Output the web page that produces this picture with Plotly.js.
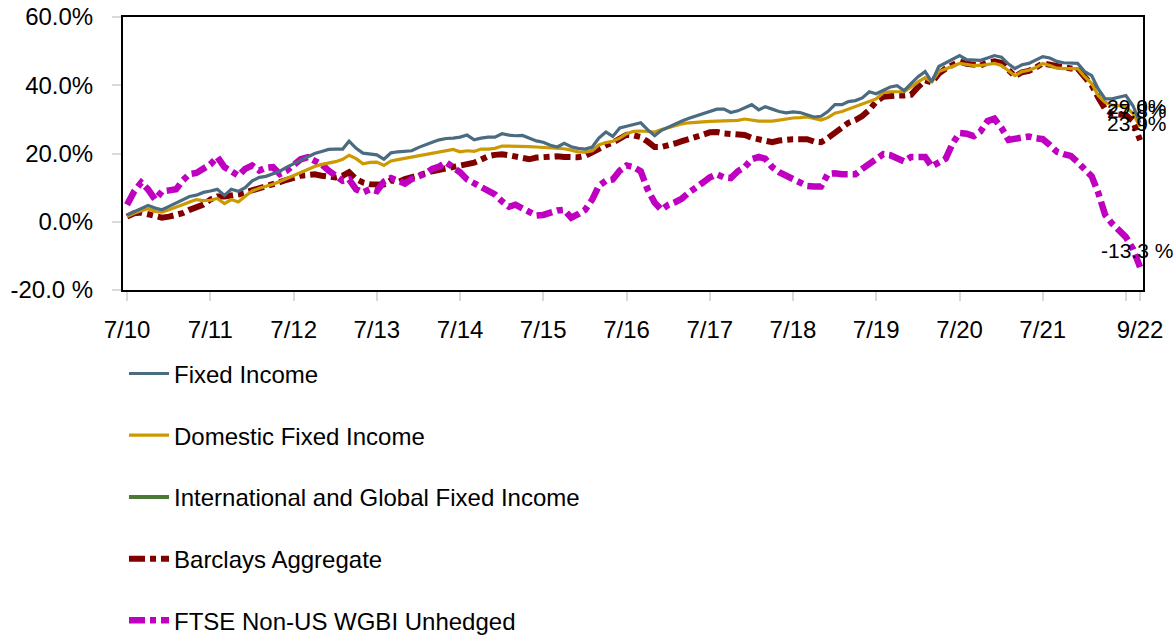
<!DOCTYPE html>
<html>
<head>
<meta charset="utf-8">
<script src="https://cdn.plot.ly/plotly-3.0.1.min.js"></script>
<style>
  html, body { margin: 0; padding: 0; background: #ffffff; }
  #chart { width: 1174px; height: 637px; }
</style>
</head>
<body>
<div id="chart"></div>
<script>
// Monthly cumulative returns (%), July 2010 through September 2022
const startYear = 2010, startMonth = 7, nMonths = 147;

const fixedIncome = [
  2.0, 3.0, 4.0, 4.8, 4.0, 3.5, 4.5, 5.5, 6.2, 7.4,
  7.8, 8.6, 9.0, 9.5, 7.7, 9.5, 8.9, 10.0, 12.0, 13.0,
  13.3, 14.0, 14.8, 16.0, 17.0, 18.0, 19.2, 20.0, 20.6, 21.2,
  21.3, 21.3, 23.6, 21.5, 20.1, 19.8, 19.6,
  18.3, 20.2, 20.5, 20.6, 20.8, 21.8, 22.7, 23.3, 24.0, 24.4,
  24.5, 24.8, 25.4, 24.0, 24.5, 24.8, 24.8, 25.8, 25.4, 25.2,
  25.3, 24.6, 23.7, 23.3, 22.4, 21.9, 23.0, 22.0, 21.5, 21.3,
  21.9, 24.5, 26.3, 25.0, 27.5,
  28.0, 28.5, 29.0, 27.0, 25.2, 26.8, 27.8, 28.7, 29.5, 30.3,
  31.0, 31.8, 32.5, 33.0, 33.0, 32.0, 32.5, 33.3, 34.3, 32.8,
  33.7, 33.0, 32.3, 31.9, 32.2, 32.0, 31.4, 30.7, 30.9, 32.3,
  34.3, 34.3, 35.2, 35.5, 36.3, 38.1, 37.5,
  38.4, 39.5, 39.9, 38.4, 40.5, 42.5, 44.0, 41.0, 45.5, 46.5,
  47.5, 48.7, 47.5, 47.3, 47.3, 48.0, 48.7, 48.2, 46.2, 44.9,
  46.0, 46.4, 47.3, 48.4, 48.0, 47.0, 46.6, 46.4, 46.4, 44.0,
  42.8, 39.0, 36.0, 36.0, 36.5, 37.0, 34.0, 29.0
];

const domesticFixedIncome = [
  1.5, 2.5, 3.2, 3.8, 3.0, 2.8, 3.5, 4.2, 5.0, 5.8,
  6.5, 6.2, 6.3, 6.8, 5.3, 6.5, 5.8, 7.5, 9.0, 9.8,
  10.3, 11.0, 11.8, 12.7, 13.5, 14.6, 15.5, 16.2, 16.8, 17.2,
  17.6, 18.3, 19.5, 18.5, 17.0, 17.4, 17.5,
  16.5, 17.8, 18.2, 18.6, 18.9, 19.3, 19.8, 20.1, 20.4, 21.0,
  21.2, 20.5, 20.8, 20.6, 21.3, 21.3, 21.5, 22.2, 22.2, 22.2,
  22.2, 22.0, 21.9, 21.8, 21.6, 21.5, 21.4, 21.0, 20.5, 20.4,
  20.8, 22.5, 23.2, 23.6, 24.5,
  25.8, 26.5, 26.6, 26.5, 26.3, 27.0, 27.6, 28.3, 28.7, 29.0,
  29.2, 29.3, 29.4, 29.5, 29.5, 29.5, 29.7, 30.1, 29.8, 29.5,
  29.5, 29.5, 29.8, 30.2, 30.4, 30.5, 30.7, 30.3, 29.8, 30.5,
  31.8, 32.3, 33.0, 33.6, 34.6, 35.3, 36.0,
  37.8, 38.1, 38.1, 38.1, 39.5, 41.0, 42.2, 41.0, 44.0, 44.9,
  45.6, 46.4, 46.0, 45.8, 45.8, 46.2, 46.4, 45.8, 44.3, 42.8,
  44.0, 44.4, 45.2, 46.4, 45.8, 45.0, 44.9, 44.9, 44.9, 42.5,
  40.5, 37.0, 35.0, 34.2, 34.0, 33.5, 31.8, 27.8
];

// No line is visible for this series in the reference; legend entry only
const intlGlobalFixedIncome = [];

const barclaysAggregate = [
  1.5, 2.5, 2.7, 2.2, 1.5, 1.2, 1.5, 1.8, 2.5, 3.5,
  4.3, 5.0, 6.5, 7.4, 7.4, 7.5, 8.0, 8.6, 9.2, 9.6,
  10.0, 10.9, 11.6, 12.3, 13.0, 13.5, 13.7, 13.9, 13.5, 13.2,
  13.0, 13.5, 14.5, 12.5, 11.5, 11.0, 10.8,
  10.9, 12.2, 11.6, 12.5, 13.2, 13.7, 14.2, 14.8, 15.2, 15.7,
  16.0, 16.3, 16.7, 17.3, 18.2, 19.2, 19.6, 19.8, 19.5, 19.0,
  18.5, 18.3, 18.8, 19.0, 19.1, 19.2, 19.0, 18.9, 18.9, 19.3,
  20.4, 21.6, 22.4, 23.2, 24.5,
  25.5, 25.3, 24.8, 23.5, 21.9, 21.9, 22.3, 23.0, 23.6, 24.1,
  24.7, 25.5, 26.2, 26.3, 25.9, 25.7, 25.7, 25.4, 24.6, 24.2,
  23.6, 23.3, 23.8, 24.2, 24.2, 24.2, 24.2, 23.5, 23.3, 24.5,
  26.0, 27.8, 29.0, 29.8, 31.0, 32.8,
  35.2, 36.6, 37.0, 37.0, 37.0, 37.2, 39.5, 41.4, 40.8, 43.4,
  44.9, 46.0, 47.0, 46.3, 46.0, 45.8, 46.7, 47.0, 46.5, 44.5,
  42.6, 43.8, 44.2, 45.2, 46.4, 46.0, 45.5, 45.0, 44.9, 44.9,
  42.5, 40.0, 36.5, 33.0, 31.6, 31.6, 31.3, 29.5, 23.9
];

const ftseNonUsWgbi = [
  5.0, 8.9, 11.5, 9.5, 6.5, 8.9, 9.2, 9.5, 12.0, 14.0,
  14.3, 15.5, 16.8, 19.0, 16.0, 14.8, 13.5, 15.5, 16.5, 15.0,
  15.8, 16.0, 14.0, 15.0, 16.5, 18.3, 18.9, 17.7, 16.8, 15.0,
  13.3, 12.0, 12.4, 9.5, 8.6, 9.5, 9.0,
  11.8, 12.8, 12.0, 11.2, 12.5, 13.2, 14.2, 15.5, 16.2, 17.4,
  16.2, 14.5, 12.4, 11.2, 10.0, 9.0, 8.0, 6.0, 4.4, 5.0,
  3.8, 3.0, 1.8, 2.0, 2.7, 3.3, 3.5, 1.2, 2.2, 3.5,
  6.5, 10.5, 12.0, 12.4, 15.0,
  16.5, 16.0, 14.8, 9.5, 5.6, 3.5, 5.0, 5.8, 6.8, 8.6,
  9.8, 11.5, 13.0, 13.9, 13.0, 12.8, 14.8, 16.0, 18.3, 19.0,
  18.5, 16.0, 14.5, 13.5, 12.8, 12.0, 10.5, 10.3, 10.3, 14.0,
  14.2, 13.9, 13.9, 13.9, 15.5, 17.0, 18.3,
  19.8, 19.5, 18.5, 17.7, 19.0, 19.2, 19.0, 16.2, 17.5, 18.5,
  23.0, 26.0, 25.8, 25.1, 26.5, 29.5, 30.2, 27.5, 24.0, 24.2,
  24.8, 25.0, 24.5, 24.2, 22.5, 20.5, 19.8, 19.3, 17.5, 15.5,
  13.3, 8.6, 2.0, -0.5, -2.5, -4.5, -8.0, -13.3
];

const seriesNames = [
  "Fixed Income",
  "Domestic Fixed Income",
  "International and Global Fixed Income",
  "Barclays Aggregate",
  "FTSE Non-US WGBI Unhedged"
];

// End-point labels as printed on the chart
const endLabels = ["29.0%", "27.8%", null, "23.9%", "-13.3 %"];

const tickDates = [
  "2010-07-01", "2011-07-01", "2012-07-01", "2013-07-01", "2014-07-01",
  "2015-07-01", "2016-07-01", "2017-07-01", "2018-07-01", "2019-07-01",
  "2020-07-01", "2021-07-01", "2022-07-01", "2022-09-01"
];
const tickLabels = [
  "7/10", "7/11", "7/12", "7/13", "7/14", "7/15", "7/16", "7/17",
  "7/18", "7/19", "7/20", "7/21", "", "9/22"
];

const yTickVals = [-20, 0, 20, 40, 60];
const yTickText = ["-20.0 %", "0.0%", "20.0%", "40.0%", "60.0%"];

// ---- build month axis ----
const months = [];
for (let i = 0; i < nMonths; i++) {
  const y = startYear + Math.floor((startMonth - 1 + i) / 12);
  const m = ((startMonth - 1 + i) % 12) + 1;
  months.push(y + "-" + String(m).padStart(2, "0") + "-01");
}
[fixedIncome, domesticFixedIncome, barclaysAggregate, ftseNonUsWgbi].forEach((s, k) => {
  if (s.length !== nMonths) throw new Error("series " + k + " length " + s.length);
});

const colors = ["#4b6b80", "#cc9900", "#4a7a35", "#800000", "#c000c0"];
const font = "Arial, 'Liberation Sans', Helvetica, sans-serif";

const mk = (idx, yvals, line) => ({
  type: "scatter",
  mode: "lines",
  name: seriesNames[idx],
  x: yvals.length ? months : [months[0]],
  y: yvals.length ? yvals : [null],
  line: line,
  legendgroup: "g" + idx,
  legendrank: idx + 1,
  showlegend: true,
  hoverinfo: "skip"
});

const traces = [
  mk(2, intlGlobalFixedIncome, { color: colors[2], width: 4 }),
  mk(3, barclaysAggregate, { color: colors[3], width: 6, dash: "16px,5px,6px,5px" }),
  mk(4, ftseNonUsWgbi, { color: colors[4], width: 6.5, dash: "16px,5px,6px,5px" }),
  mk(1, domesticFixedIncome, { color: colors[1], width: 3.2 }),
  mk(0, fixedIncome, { color: colors[0], width: 3.2 })
];

const seriesData = [fixedIncome, domesticFixedIncome, intlGlobalFixedIncome, barclaysAggregate, ftseNonUsWgbi];
const annotations = [];
seriesData.forEach((s, i) => {
  if (!endLabels[i] || !s.length) return;
  annotations.push({
    x: months[s.length - 1], y: s[s.length - 1],
    xref: "x", yref: "y",
    text: endLabels[i], showarrow: false,
    xanchor: "center", yanchor: "bottom", yshift: 3, xshift: -3,
    font: { family: font, size: 21, color: "#000000" }
  });
});

const layout = {
  width: 1174, height: 637,
  paper_bgcolor: "#ffffff", plot_bgcolor: "#ffffff",
  margin: { l: 123, r: 31, t: 17, b: 347, autoexpand: false },
  font: { family: font, size: 24, color: "#000000" },
  showlegend: true,
  legend: {
    x: 0.001, y: -0.225, xanchor: "left", yanchor: "top",
    orientation: "v", traceorder: "grouped", tracegroupgap: 27.5,
    font: { family: font, size: 24, color: "#000000" },
    bgcolor: "rgba(0,0,0,0)", itemwidth: 40
  },
  xaxis: {
    type: "date",
    range: ["2010-06-13", "2022-09-14"],
    tickmode: "array", tickvals: tickDates, ticktext: tickLabels,
    ticks: "outside", ticklen: 9, tickwidth: 2, tickcolor: "#d9d9d9",
    showline: true, linecolor: "#000000", linewidth: 2, mirror: true,
    showgrid: false, zeroline: false,
    tickfont: { family: font, size: 24, color: "#000000" },
    ticklabelstandoff: 8
  },
  yaxis: {
    range: [-20, 60],
    tickmode: "array", tickvals: yTickVals, ticktext: yTickText,
    ticks: "outside", ticklen: 9, tickwidth: 2, tickcolor: "#d9d9d9",
    showline: true, linecolor: "#000000", linewidth: 2, mirror: true,
    showgrid: false, zeroline: false,
    tickfont: { family: font, size: 24, color: "#000000" },
    ticklabelstandoff: 14
  },
  annotations: annotations
};

Plotly.newPlot("chart", traces, layout, { displayModeBar: false, staticPlot: true });
</script>
</body>
</html>
